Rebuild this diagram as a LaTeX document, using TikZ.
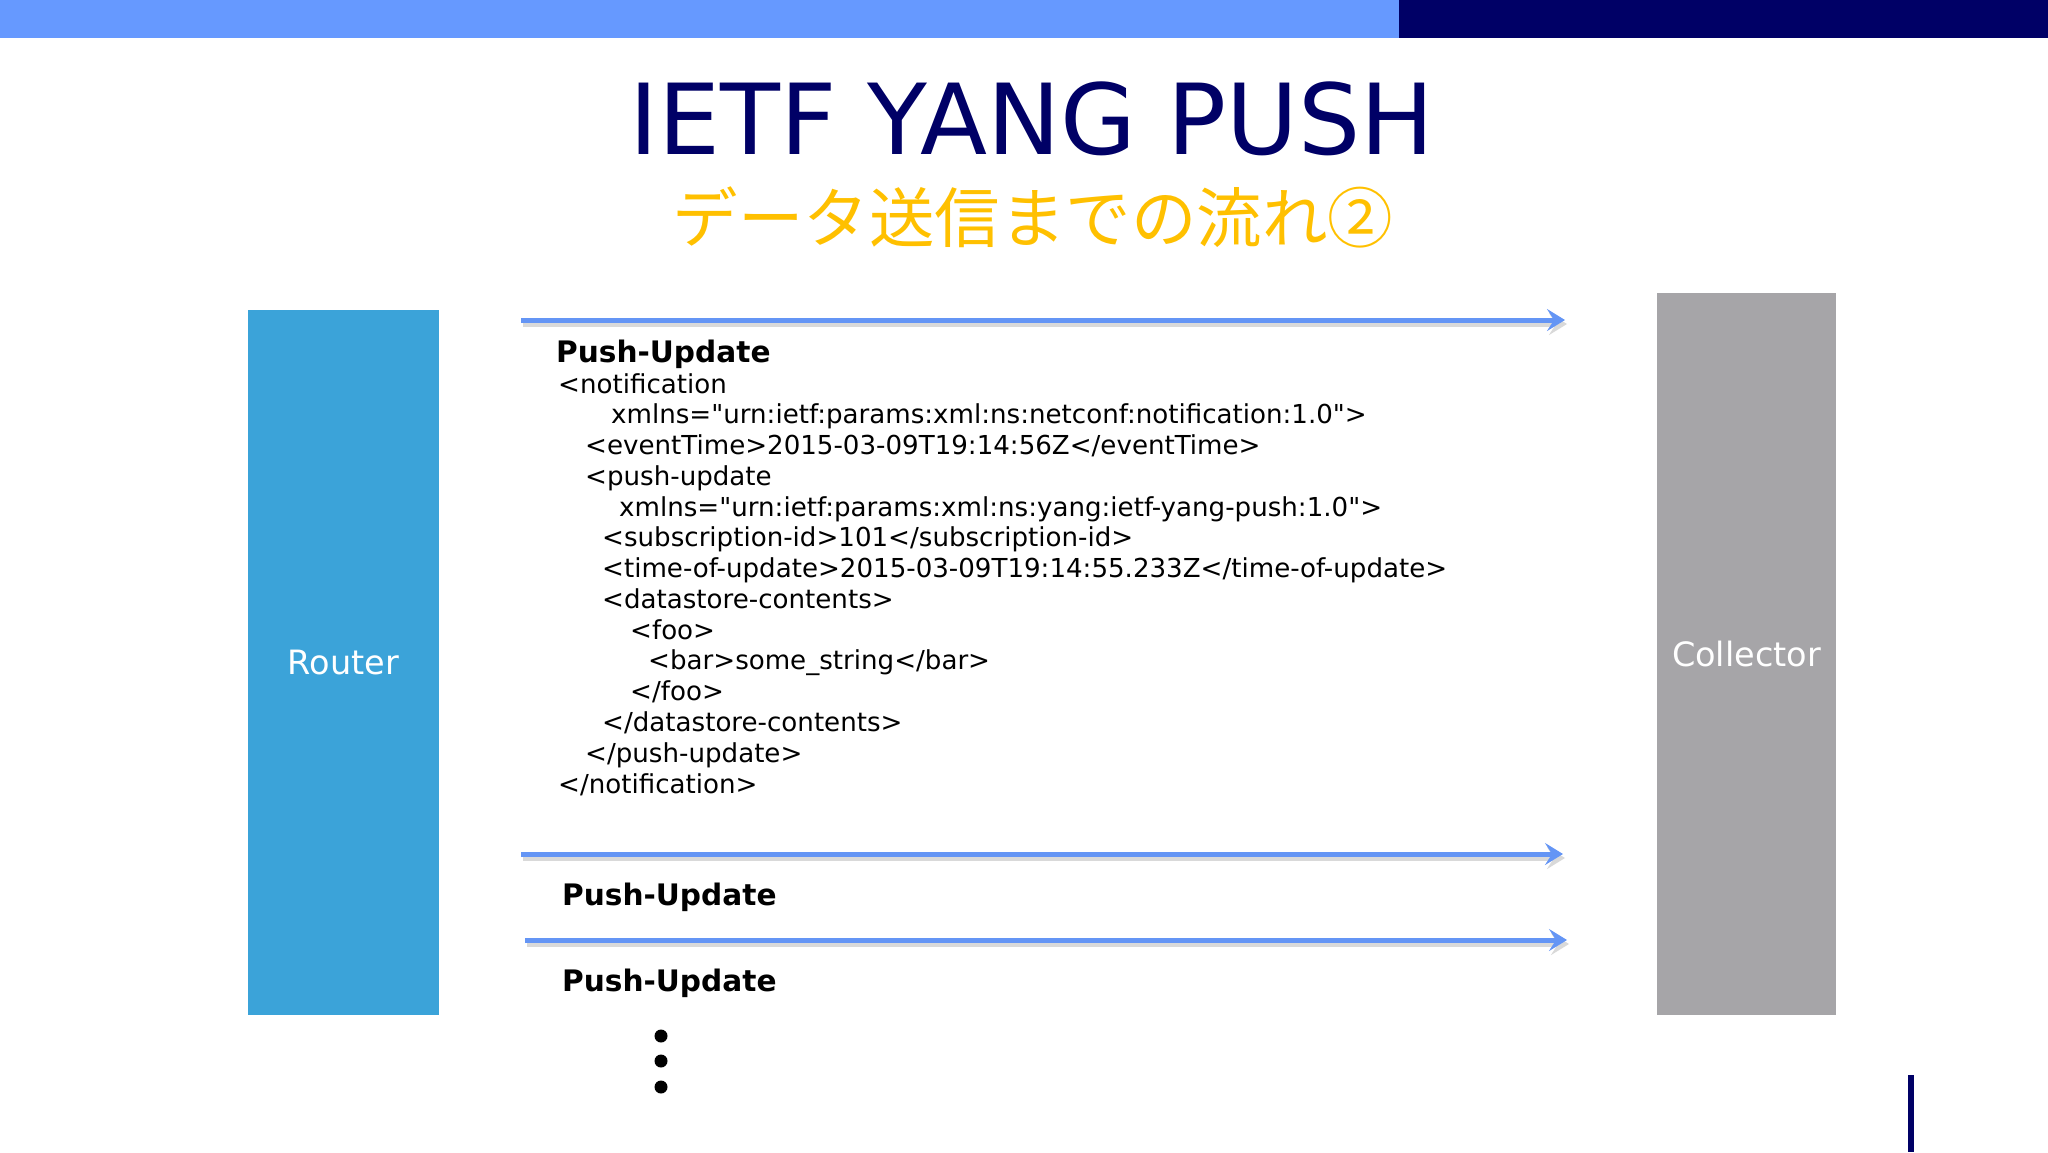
\documentclass[tikz,border=0pt]{standalone}
\usepackage{fontspec}
\setmainfont{DejaVu Sans}
\newfontfamily\codefont{DejaVu Sans}[Ligatures=TeXOff]
\newfontfamily\jpfont{Noto Sans CJK JP}
\usetikzlibrary{arrows.meta}
\definecolor{barblue}{HTML}{6699FF}
\definecolor{barnavy}{HTML}{000066}
\definecolor{subgold}{HTML}{FFC000}
\definecolor{routerblue}{HTML}{3BA3D9}
\definecolor{collgray}{HTML}{A6A5A8}
\definecolor{flowblue}{HTML}{6495F5}

\begin{document}
\begin{tikzpicture}[x=1pt,y=-1pt]
\tikzstyle{every node}=[inner sep=0pt]
\tikzstyle{code}=[anchor=base west,font=\codefont\fontsize{26.1}{30}\selectfont]
\tikzstyle{msg}=[anchor=base west,font=\fontsize{29.6}{34}\selectfont\bfseries]
\tikzstyle{box}=[text=white,font=\fontsize{33.5}{38}\selectfont]
\tikzstyle{flow}=[line width=5pt,flowblue,-{Stealth[length=18pt,width=22pt,inset=7pt]}]
\tikzstyle{shade}=[line width=5pt,black!15,-{Stealth[length=18pt,width=22pt,inset=7pt]}]
\useasboundingbox (0,0) rectangle (2048,1152);
% header bar
\fill[barblue](0,0) rectangle (1399,38);
\fill[barnavy](1399,0) rectangle (2048,38);
\draw[barnavy,line width=6pt](1911,1075)--(1911,1152);
% titles
\node[text=barnavy,font=\fontsize{98}{110}\selectfont] (title) at (1032,119) {IETF YANG PUSH};
\node[text=subgold,font=\jpfont\fontsize{65.5}{70}\selectfont] (sub) at (1033,217) {データ送信までの流れ②};
% endpoints
\node[box,fill=routerblue,minimum width=191pt,minimum height=705pt] (router) at (343.5,662.5) {Router};
\node[box,fill=collgray,minimum width=179pt,minimum height=722pt] (collector) at (1746.5,654) {Collector};
% messages
\coordinate (s1) at (521,320); \coordinate (e1) at (1565,320);
\coordinate (s2) at (521,854); \coordinate (e2) at (1563,854);
\coordinate (s3) at (525,940); \coordinate (e3) at (1567,940);
\foreach \i in {1,2,3}{
  \draw[shade]([shift={(2,4)}]s\i)--([shift={(2,4)}]e\i);
  \draw[flow](s\i)--(e\i);
}
\node[msg] (m1) at (556,362) {Push-Update};
\node[code] (c1) at (558,393) {<notification};
\node[code] (c2) at (611,423.8) {xmlns="urn:ietf:params:xml:ns:netconf:notification:1.0">};
\node[code] (c3) at (585,454.5) {<eventTime>2015-03-09T19:14:56Z</eventTime>};
\node[code] (c4) at (585,485.3) {<push-update};
\node[code] (c5) at (619,516.1) {xmlns="urn:ietf:params:xml:ns:yang:ietf-yang-push:1.0">};
\node[code] (c6) at (602,546.9) {<subscription-id>101</subscription-id>};
\node[code] (c7) at (602,577.6) {<time-of-update>2015-03-09T19:14:55.233Z</time-of-update>};
\node[code] (c8) at (602,608.4) {<datastore-contents>};
\node[code] (c9) at (630,639.2) {<foo>};
\node[code] (c10) at (648,669.9) {<bar>some\_string</bar>};
\node[code] (c11) at (630,700.7) {</foo>};
\node[code] (c12) at (602,731.5) {</datastore-contents>};
\node[code] (c13) at (585,762.2) {</push-update>};
\node[code] (c14) at (558,793) {</notification>};
\node[msg] (m2) at (562,905) {Push-Update};
\node[msg] (m3) at (562,991) {Push-Update};
\foreach \y in {1036,1061,1087}
  \fill (661,\y) circle (6.5);
\end{tikzpicture}
\end{document}
